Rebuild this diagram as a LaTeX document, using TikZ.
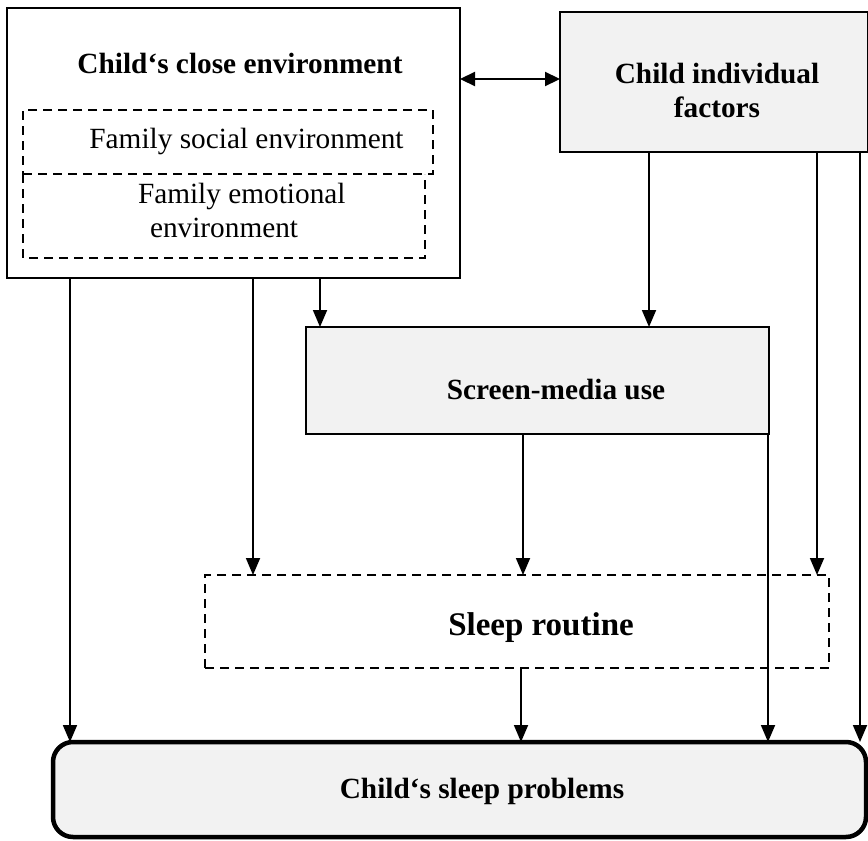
\documentclass[tikz,border=0pt]{standalone}
\usepackage{fontspec}
\setmainfont{Liberation Serif}
\usetikzlibrary{arrows.meta}
\definecolor{boxgray}{RGB}{242,242,242}
\begin{document}
\begin{tikzpicture}[x=1pt,y=-1pt,
  every node/.style={inner sep=0pt, outer sep=0pt},
  solidbox/.style={draw, line width=1.7pt, rectangle},
  graybox/.style={solidbox, fill=boxgray},
  dashline/.style={line width=1.7pt, dash pattern=on 9pt off 6pt},
  dashbox/.style={draw, dashline},
  probbox/.style={draw, line width=4.5pt, fill=boxgray, rounded corners=20pt},
  lbl/.style={font=\fontsize{29.3}{34}\selectfont, anchor=base},
  blbl/.style={anchor=base, font=\fontsize{29.3}{34}\selectfont\bfseries},
  arr/.style={line width=1.8pt, -{Triangle[width=14pt,length=17pt]}},
  dblarr/.style={line width=2.2pt, {Triangle[width=14pt,length=15pt]}-{Triangle[width=14pt,length=15pt]}}
]
\useasboundingbox (0,0) rectangle (868,841);

% boxes
\node[solidbox, minimum width=453pt, minimum height=270pt] (env) at (233.5,143) {};
\node[dashbox, minimum width=410pt, minimum height=64pt] (soc) at (228,142) {};
\node[minimum width=402pt, minimum height=84pt] (emo) at (224,216) {};
\draw[dashline] (emo.north west) -- (emo.south west) -- (emo.south east) -- (emo.north east);
\node[graybox, minimum width=308pt, minimum height=140pt] (ind) at (714,82) {};
\node[graybox, minimum width=463pt, minimum height=107pt] (scr) at (537.5,380.5) {};
\node[dashbox, minimum width=624pt, minimum height=93pt] (rout) at (517,621.5) {};
\node[probbox, minimum width=813pt, minimum height=95pt] (prob) at (459.5,789.5) {};

% texts
\node[blbl] (envtxt) at (240,73) {Child‘s close environment};
\node[lbl] (soctxt) at (246.5,148) {Family social environment};
\node[lbl, anchor=base west] (emotxtA) at (138,203) {Family emotional};
\node[lbl, anchor=base west] (emotxtB) at (150,237) {environment};
\node[blbl] (indtxtA) at (717,83) {Child individual};
\node[blbl] (indtxtB) at (717,117) {factors};
\node[blbl] (scrtxt) at (556,399) {Screen-media use};
\node[blbl, font=\fontsize{33}{38}\selectfont\bfseries] (routtxt) at (541,635) {Sleep routine};
\node[blbl] (probtxt) at (482,798) {Child‘s sleep problems};

% connectors
\draw[dblarr] (env.east |- 0,79) -- (ind.west |- 0,79);
\draw[arr] (env.south -| 70,0) -- (prob.north -| 70,0);
\draw[arr] (env.south -| 253,0) -- (rout.north -| 253,0);
\draw[arr] (env.south -| 320,0) -- (scr.north -| 320,0);
\draw[arr] (ind.south -| 649,0) -- (scr.north -| 649,0);
\draw[arr] (ind.south -| 817,0) -- (rout.north -| 817,0);
\draw[arr] (ind.south -| 860,0) -- (prob.north -| 860,0);
\draw[arr] (scr.south -| 523,0) -- (rout.north -| 523,0);
\draw[arr] (scr.south -| 768,0) -- (prob.north -| 768,0);
\draw[arr] (rout.south -| 521,0) -- (prob.north -| 521,0);
\end{tikzpicture}
\end{document}
